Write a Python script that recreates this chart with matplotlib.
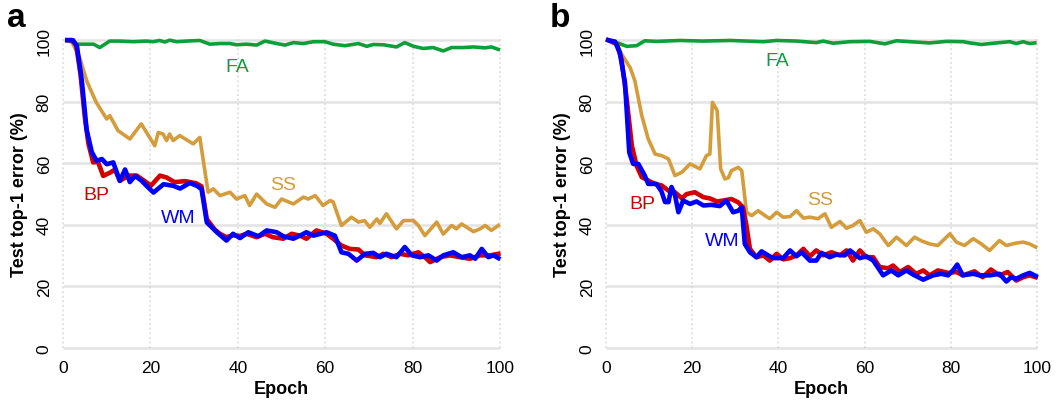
import matplotlib
matplotlib.use("Agg")
import matplotlib.pyplot as plt

plt.rcParams['font.family'] = ['Liberation Sans', 'DejaVu Sans']

# ---- panel a ----
a_fa_x = [1, 3, 5, 7, 8.4, 10.7, 13, 16, 19, 20.6, 22.1, 23.3, 24.4, 26, 28.2, 31.3, 33.6, 35.9, 38.2, 39.7,
          42, 44.3, 46.2, 48.9, 50.8, 52.7, 55, 57.3, 59.9, 61.8, 64.5, 67.6, 69.5, 71, 73.3, 76.3, 78.2,
          80.2, 82.4, 84.7, 87, 88.9, 91.6, 93.9, 96.6, 98, 99.6]
a_fa_y = [100, 98.7, 98.7, 98.7, 97.6, 99.7, 99.7, 99.5, 99.7, 99.5, 99.9, 99.4, 100, 99.5, 99.7, 99.9, 98.7,
          98.9, 98.9, 98.5, 98.7, 98.4, 99.7, 98.9, 98.4, 99.2, 98.9, 99.5, 99.5, 98.7, 98.2, 98.9, 98.0,
          98.6, 98.5, 97.8, 99.2, 98.0, 97.3, 97.6, 96.5, 97.6, 97.6, 97.8, 97.5, 97.8, 97.0]

a_ss_x = [1, 2, 3.8, 5.5, 7.6, 10, 10.7, 12.6, 15.3, 17.9, 21, 21.8, 22.9, 23.7, 24.4, 25.2, 26.7, 29.8, 31.3,
          33.2, 34.4, 35.9, 38.2, 39.7, 41.6, 42.7, 44.3, 46.6, 48.5, 50, 52.7, 55, 56.1, 57.7, 59.5, 61.1,
          61.8, 63.7, 66, 67.6, 69, 70.2, 71.8, 72.5, 74, 76.3, 77.9, 80.2, 81.3, 82.8, 85.5, 87, 88.9, 90,
          91.2, 93.9, 95.4, 96.6, 98, 99.6]
a_ss_y = [100, 99.5, 94.4, 86.5, 79.8, 74.4, 75.5, 70.6, 67.9, 72.8, 65.7, 70, 69.5, 67.4, 69.5, 67.4, 69,
          66.3, 68.4, 50.6, 51.7, 49.5, 50.6, 48.4, 49.5, 46.3, 50, 46.8, 45.7, 48.4, 46.8, 49, 48.4, 49.5,
          46.3, 47.9, 47.5, 39.8, 42.5, 40.9, 41.4, 39.2, 41.9, 40.5, 43.6, 38.7, 41.4, 41.4, 39.8, 36.5,
          40.9, 37, 39.8, 38.7, 40.3, 37.8, 38.7, 39.8, 38.2, 39.8]

a_bp_x = [1, 2, 3, 4, 5, 5.8, 6.9, 8, 9.2, 10.8, 11.9, 13, 15, 16.9, 19, 20.1, 22.2, 23.7, 25.5, 28, 30.5,
          31.7, 32.9, 34.7, 35.9, 37.4, 38.9, 40.5, 42, 44.3, 46.2, 48, 50.4, 52.3, 54.2, 55.7, 58, 60.3,
          61.8, 63.7, 65.6, 67.6, 69.1, 71.8, 73.3, 75.2, 77.1, 79, 81.3, 83.2, 84, 86.3, 88.5, 90.8,
          93.1, 95.4, 97.7, 99.6]
a_bp_y = [100, 100, 98.5, 89, 75, 66.5, 60.3, 60.5, 55.9, 57, 58, 54.3, 56, 56, 53.9, 52.7, 56, 55.4, 53.9,
          54.2, 53.5, 52.5, 41.9, 38.5, 37.1, 36, 36.6, 36.4, 37.1, 36, 37.1, 36, 35.5, 37.1, 36.5, 35.5,
          38.2, 37.1, 35.5, 33.3, 32.2, 32, 30.1, 29.5, 30.6, 29.5, 30.6, 30.1, 31.1, 29, 27.9, 29.5, 30.1,
          29.5, 29, 30.1, 30.1, 30.6]

a_wm_x = [1, 2.3, 3.2, 4.3, 5.4, 6.6, 7.7, 8.9, 10, 11.5, 13, 14.2, 15.3, 16.5, 18, 19.1, 20.7, 23, 25.2,
          26.8, 29, 30.6, 31.7, 32.9, 35.2, 37.4, 38.9, 40.5, 42.4, 44.7, 46.6, 48.9, 50.4, 52.7, 54.2,
          55.7, 57.3, 60.3, 62.2, 63.7, 65.3, 67.2, 69.1, 71, 72.5, 74, 76.3, 78.2, 79.8, 81.7, 83.6,
          85.5, 87, 89.3, 91.2, 93.1, 94.3, 95.8, 97.3, 98.5, 99.6]
a_wm_y = [100, 100, 98, 87, 71, 63.6, 60.8, 61.4, 59.7, 60.3, 54.3, 58, 53.9, 55.9, 54.3, 52.7, 50.5, 53.2,
          52.7, 51.8, 53.6, 52.7, 51.6, 40.8, 37.6, 34.9, 37.1, 35.7, 37.6, 36.3, 38.2, 37.6, 36.3, 35.5,
          36.5, 37.6, 36.5, 37.6, 36.5, 31.1, 30.6, 28.4, 30.6, 30.9, 29.5, 30.6, 29.5, 32.8, 30.1, 29.5,
          30.1, 28.4, 30.1, 31.1, 29.5, 30.1, 29, 32.2, 29.5, 30.1, 29.2]

# ---- panel b ----
b_fa_x = [0.5, 2.5, 4.8, 7.1, 9, 11.7, 17.2, 22.5, 28.8, 32.7, 36.5, 39.6, 44.2, 48.8, 50.4, 52.7, 56.6,
          61.2, 64.7, 67.4, 70.5, 75.1, 79, 82.9, 84.4, 87.1, 90.6, 93.7, 95.2, 96.8, 98.3, 99.5]
b_fa_y = [100, 99.2, 98, 98.2, 99.8, 99.6, 99.9, 99.7, 99.9, 99.7, 99.5, 99.9, 99.7, 99.2, 99.7, 99, 99.5,
          99.6, 98.8, 99.8, 99.5, 99.1, 99.6, 99.5, 99.1, 98.6, 99.1, 99.5, 98.9, 99.5, 98.9, 99.1]

b_ss_x = [0.5, 2.1, 3.6, 5.6, 6.7, 8.3, 9.8, 11.4, 12.9, 14.5, 16, 17.6, 19.5, 21.8, 23.3, 24.1, 24.7, 25.8,
          26.6, 27.6, 28.4, 29.1, 30.7, 31.5, 32.6, 33.8, 35.3, 36.9, 38, 39.6, 41.1, 42.7, 44.2, 45.8,
          47.3, 49.2, 50.8, 52.3, 54.3, 55.8, 57.3, 58.9, 60.4, 62, 63.5, 65.5, 67.4, 69.7, 71.6, 73.2,
          75.1, 77, 79.8, 81.3, 83.2, 85.2, 87.1, 89, 91.3, 92.9, 95.2, 96.8, 98.3, 99.7]
b_ss_y = [100, 99.8, 95.5, 91.1, 86.8, 75.5, 67.9, 63, 62.5, 61.4, 56, 57.1, 59.8, 58.2, 62.5, 63, 79.8,
          77.1, 58.2, 54.9, 55.3, 57.6, 58.7, 57.6, 44.1, 43, 44.6, 43, 42, 44.1, 42.5, 42.7, 44.6, 42.2,
          42.5, 42, 43.6, 39.2, 41.1, 38.9, 39.8, 41.4, 37.6, 38.7, 37.1, 33.3, 36, 33.3, 36, 34.8, 33.8,
          33.3, 37.1, 34.4, 33.3, 35.5, 33.8, 31.7, 34.9, 33.3, 34.1, 34.4, 33.8, 32.8]

b_bp_x = [0.5, 2.5, 3.6, 4.8, 6, 7.1, 8.3, 9.8, 11.4, 12.9, 14.5, 16, 17.6, 18.7, 20.6, 22.6, 24.1, 25.7,
          27.2, 29.1, 30.7, 31.8, 32.6, 33.4, 34.9, 36.5, 38, 39.6, 41.1, 42.7, 44.2, 45.8, 47.3, 48.8,
          50.4, 52.3, 54.3, 55.8, 57.3, 58.9, 60.4, 62, 63.5, 65.5, 66.6, 68.2, 70.1, 72, 73.6, 75.1, 77,
          79.4, 81.3, 82.8, 85.5, 87.4, 89.3, 91.3, 93.2, 95.2, 96.8, 98.3, 99.7]
b_bp_y = [100, 98.7, 93.8, 80.9, 65.7, 59.2, 55.5, 54.4, 53.3, 52.8, 51.1, 50.6, 48.6, 50, 50.6, 49, 48.6,
          47.6, 47.9, 48.4, 47.3, 45.7, 39.7, 32.2, 29.5, 30.1, 28.4, 30.6, 28.8, 29.2, 30.1, 32.2, 29.8,
          31.7, 30.1, 31.1, 30.1, 31.7, 28.4, 31.7, 29.5, 29.5, 26.3, 25.9, 26.8, 24.7, 26.3, 24.1, 25.2,
          23.6, 25.2, 24.4, 24.7, 23.6, 24.9, 23, 25.5, 23.6, 24.7, 21.9, 23, 23.6, 23]

b_wm_x = [0.5, 2.1, 3.2, 4.4, 5.4, 6.3, 7.5, 9, 9.8, 11.7, 12.9, 13.7, 14.5, 15.2, 16, 16.8, 17.9, 19.5, 21,
          22.6, 24.5, 26.4, 27.9, 29.5, 30.7, 31.5, 32.2, 33.4, 34.9, 36.1, 37.6, 38.8, 41.1, 42.7, 44.2,
          45.4, 47.3, 48.8, 50, 51.9, 53.4, 55.4, 56.6, 58.9, 60.4, 62, 64.3, 66.2, 67.8, 69.7, 71.3, 73.6,
          75.9, 77.8, 79.4, 80.5, 81.5, 82.8, 85.2, 86.7, 89, 91.3, 92.9, 94, 95.2, 96.8, 98.3, 99.7]
b_wm_y = [100, 99.5, 96, 86.2, 63.5, 59.8, 59.8, 56, 53.3, 53.3, 50.8, 47.4, 47.4, 52.3, 49.7, 44.1, 47.9,
          46.8, 47.6, 46.3, 46.5, 46.1, 47.9, 44.1, 44.6, 45.7, 33.8, 31.1, 29.5, 31.4, 30.1, 29.2, 29.2,
          31.7, 29.8, 31.1, 28.4, 28.4, 30.9, 29.5, 30.3, 30.1, 31.7, 29.2, 29.8, 28.4, 23.6, 25.2, 23.6,
          25.2, 23.8, 22.2, 23.6, 24.1, 23.6, 25.2, 27.1, 23.6, 24.1, 23.6, 23.6, 24.1, 21.6, 23, 22.5,
          23.6, 24.4, 23.4]

ticks = [0, 20, 40, 60, 80, 100]

GREEN = '#0f9e3a'
GOLD = '#d49c3a'
RED = '#d40000'
BLUE = '#0000ff'

panels = [
    dict(letter='a', pos=[0.0554, 0.129, 0.4214, 0.781],
         fa=(a_fa_x, a_fa_y), ss=(a_ss_x, a_ss_y), bp=(a_bp_x, a_bp_y), wm=(a_wm_x, a_wm_y),
         lab=dict(FA=(39.8, 91.5), SS=(50.3, 53.2), BP=(7.6, 50), WM=(26.3, 42.5))),
    dict(letter='b', pos=[0.5687, 0.129, 0.4155, 0.781],
         fa=(b_fa_x, b_fa_y), ss=(b_ss_x, b_ss_y), bp=(b_bp_x, b_bp_y), wm=(b_wm_x, b_wm_y),
         lab=dict(FA=(39.7, 93.5), SS=(49.7, 48.4), BP=(8.4, 47), WM=(27, 35))),
]

fig = plt.figure(figsize=(10.58, 4.06), dpi=100)

for p in panels:
    ax = fig.add_axes(p['pos'])
    ax.set_xlim(-1, 101)
    ax.set_ylim(-1.5, 101.5)
    for s in ax.spines.values():
        s.set_visible(False)
    # grid
    ax.hlines(ticks, 0, 100, color='#e3e3e3', lw=1.8, zorder=0)
    ax.vlines(ticks, 0, 102, color='#d8d8d8', lw=1.1, linestyles=(0, (1.2, 1.8)), zorder=0)

    ax.plot(*p['fa'], color=GREEN, lw=2.6, solid_joinstyle='round')
    ax.plot(*p['ss'], color=GOLD, lw=2.6, solid_joinstyle='round')
    ax.plot(*p['bp'], color=RED, lw=3.3, solid_joinstyle='round')
    ax.plot(*p['wm'], color=BLUE, lw=3.3, solid_joinstyle='round')

    cols = dict(FA=GREEN, SS=GOLD, BP=RED, WM=BLUE)
    for name, (x, y) in p['lab'].items():
        ax.text(x, y, name, color=cols[name], fontsize=14, ha='center', va='center')

    ax.set_xticks(ticks)
    ax.set_yticks(ticks)
    ax.tick_params(length=0, labelsize=12.5, pad=5)
    for t in ax.get_yticklabels():
        t.set_rotation(90)
        t.set_va('center')
    ax.set_xlabel('Epoch', fontsize=13, fontweight='bold', labelpad=4)
    ax.set_ylabel('Test top-1 error (%)', fontsize=13, fontweight='bold', labelpad=6)

    fig.text(p['pos'][0] - 0.049, 0.933, p['letter'], fontsize=24, fontweight='bold',
             ha='left', va='baseline')

fig.savefig('out.png', dpi=100)
